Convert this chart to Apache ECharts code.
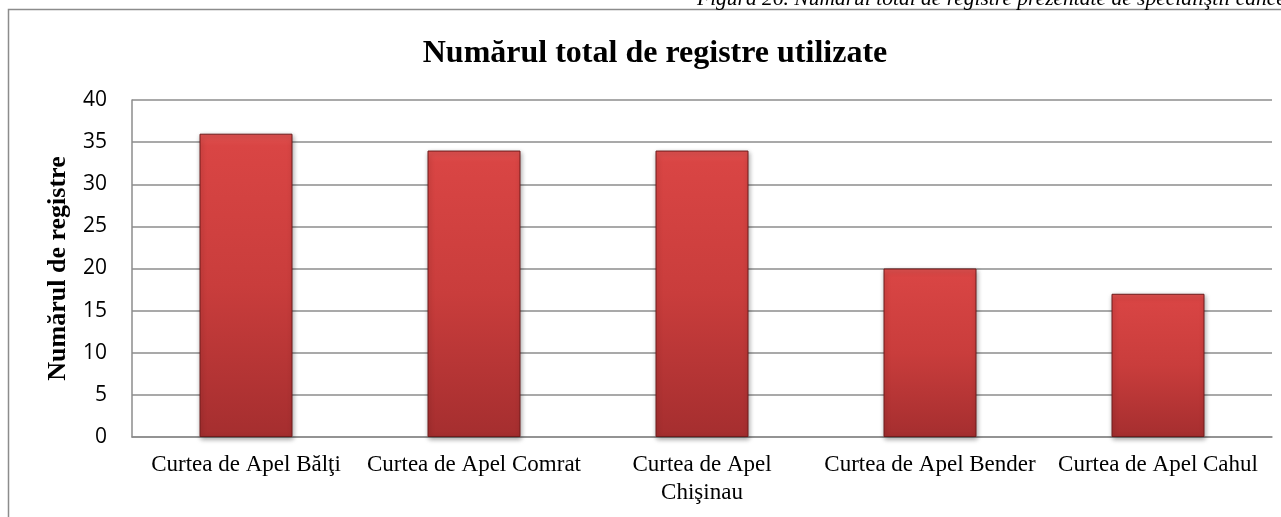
<!DOCTYPE html>
<html>
<head>
<meta charset="utf-8">
<script src="https://cdn.jsdelivr.net/npm/echarts@6/dist/echarts.min.js"></script>
<style>
  html, body { margin: 0; padding: 0; background: #fff; }
  #main { width: 1281px; height: 517px; }
</style>
</head>
<body>
<div id="main"></div>
<script>
// date
const categories = [
  "Curtea de Apel Bălţi",
  "Curtea de Apel Comrat",
  "Curtea de Apel\nChişinau",
  "Curtea de Apel Bender",
  "Curtea de Apel Cahul",
];
const registre = [36, 34, 34, 20, 17];
const titlu = "Numărul total de registre utilizate";
const caption = "Figura 26. Numărul total de registre prezentate de specialiştii cance";

let chartDom = document.getElementById("main");
let myChart = echarts.init(chartDom);
let option;

option = {
  animation: false,
  title: {
    text: titlu,
    left: 650,
    top: 33,
    textAlign: "center",
    textStyle: {
      fontFamily: "Liberation Serif",
      fontWeight: "bold",
      fontSize: 32,
      color: "#000",
    },
  },
  graphic: [
    {
      // chenarul diagramei
      type: "rect",
      shape: { x: 8.5, y: 9.5, width: 1300, height: 600 },
      style: { fill: "none", stroke: "#8c8c8c", lineWidth: 1.5 },
      silent: true,
    },
    {
      type: "text",
      x: 697,
      y: 10,
      style: {
        text: caption,
        font: "italic 21.5px 'Liberation Serif'",
        fill: "#000",
        align: "left",
        verticalAlign: "bottom",
      },
      silent: true,
    },
  ],
  grid: {
    left: 132,
    right: 9,
    top: 100,
    bottom: 80,
  },
  xAxis: {
    type: "category",
    data: categories,
    axisTick: { show: false },
    axisLine: { lineStyle: { color: "#8c8c8c", width: 1.5 } },
    axisLabel: {
      interval: 0,
      margin: 14,
      fontFamily: "Liberation Serif",
      fontSize: 23,
      lineHeight: 28,
      color: "#000",
    },
  },
  yAxis: {
    type: "value",
    min: 0,
    max: 40,
    interval: 5,
    name: "Numărul de registre",
    nameLocation: "middle",
    nameGap: 61,
    nameTextStyle: {
      fontFamily: "Liberation Serif",
      fontWeight: "bold",
      fontSize: 26,
      color: "#000",
    },
    axisLine: { show: true, lineStyle: { color: "#8c8c8c", width: 1.5 } },
    axisTick: { show: false },
    axisLabel: {
      margin: 25,
      fontFamily: "Open Sans",
      fontSize: 21,
      color: "#000",
    },
    splitLine: { lineStyle: { color: "#8c8c8c", width: 1.5 } },
  },
  series: [
    {
      type: "bar",
      data: registre,
      barWidth: 93,
      itemStyle: {
        color: new echarts.graphic.LinearGradient(0, 0, 0, 1, [
          { offset: 0, color: "#e05250" },
          { offset: 0.04, color: "#d94544" },
          { offset: 0.5, color: "#c93d3c" },
          { offset: 1, color: "#a52e2f" },
        ]),
        borderColor: "#6e1c1c",
        borderWidth: 1,
        shadowColor: "rgba(0,0,0,0.35)",
        shadowBlur: 5,
        shadowOffsetX: 1,
        shadowOffsetY: 2,
      },
    },
  ],
};
myChart.setOption(option);

window.onresize = function () {
  myChart.resize();
};
</script>
</body>
</html>
